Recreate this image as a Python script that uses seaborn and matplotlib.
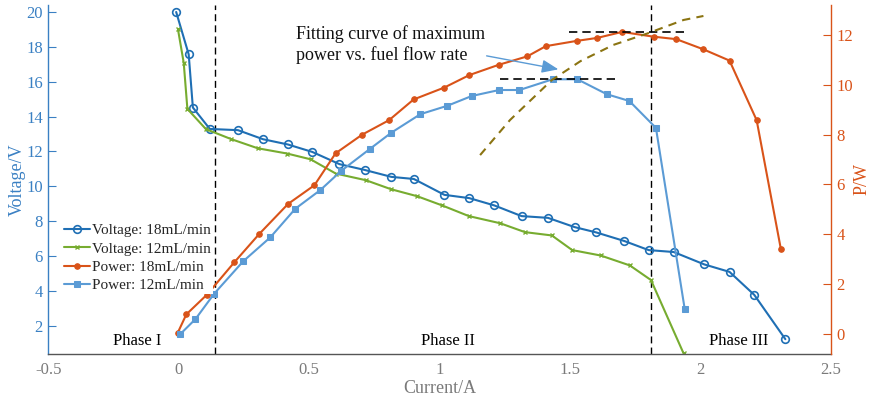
import matplotlib
matplotlib.use("Agg")
import matplotlib.pyplot as plt
import seaborn as sns
import numpy as np

# ---------------- data ----------------
i_v18 = [-0.01, 0.038, 0.054, 0.119, 0.227, 0.323, 0.418, 0.512, 0.616, 0.712, 0.815, 0.901,
         1.018, 1.114, 1.210, 1.314, 1.415, 1.517, 1.601, 1.708, 1.801, 1.897, 2.014, 2.111,
         2.206, 2.325]
v18 = [20.0, 17.57, 14.52, 13.29, 13.22, 12.70, 12.40, 11.97, 11.27, 10.94, 10.54, 10.42,
       9.51, 9.32, 8.90, 8.29, 8.19, 7.66, 7.35, 6.86, 6.34, 6.23, 5.52, 5.09, 3.77, 1.23]

i_v12 = [-0.003, 0.019, 0.033, 0.104, 0.202, 0.303, 0.415, 0.505, 0.602, 0.717, 0.814, 0.914,
         1.010, 1.112, 1.232, 1.327, 1.430, 1.508, 1.617, 1.729, 1.810, 1.935]
v12 = [19.0, 17.08, 14.44, 13.28, 12.70, 12.18, 11.88, 11.55, 10.73, 10.35, 9.83, 9.43,
       8.90, 8.29, 7.88, 7.37, 7.18, 6.34, 6.03, 5.46, 4.62, 0.41]

i_p18 = [-0.004, 0.029, 0.108, 0.213, 0.308, 0.419, 0.520, 0.601, 0.703, 0.806, 0.900, 1.018,
         1.114, 1.226, 1.336, 1.407, 1.525, 1.604, 1.699, 1.820, 1.907, 2.009, 2.111, 2.215,
         2.308]
p18 = [0.05, 0.79, 1.58, 2.88, 4.01, 5.22, 5.97, 7.25, 8.00, 8.58, 9.41, 9.89, 10.39, 10.80,
       11.14, 11.55, 11.76, 11.88, 12.12, 11.93, 11.83, 11.43, 10.97, 8.58, 3.40]

i_p12 = [0.006, 0.064, 0.135, 0.247, 0.351, 0.447, 0.543, 0.623, 0.733, 0.815, 0.926, 1.030,
         1.123, 1.228, 1.306, 1.433, 1.528, 1.641, 1.727, 1.829, 1.939]
p12 = [0.0, 0.60, 1.61, 2.92, 3.88, 5.03, 5.78, 6.55, 7.43, 8.08, 8.82, 9.16, 9.55, 9.79,
       9.79, 10.22, 10.22, 9.62, 9.35, 8.27, 1.02]

# fitting curve of maximum power vs. fuel flow rate
i_fit = [1.155, 1.270, 1.430, 1.540, 1.666, 1.794, 1.935, 2.011]
p_fit = [7.18, 8.59, 10.19, 10.95, 11.60, 12.05, 12.60, 12.76]

phase_bounds = [0.14, 1.81]
max_p18 = 12.12
max_p12 = 10.22

labels = ["Voltage: 18mL/min", "Voltage: 12mL/min", "Power: 18mL/min", "Power: 12mL/min"]
phase_names = ["Phase I", "Phase II", "Phase III"]
phase_x = [-0.16, 1.03, 2.145]
xticks = [-0.5, 0, 0.5, 1, 1.5, 2, 2.5]
xtick_labels = ["-0.5", "0", "0.5", "1", "1.5", "2", "2.5"]

# ---------------- style ----------------
sns.set_style("white")
plt.rcParams['font.family'] = ['Liberation Serif', 'DejaVu Serif']
plt.rcParams['axes.unicode_minus'] = False

c_v18 = '#1f6fb4'
c_v12 = '#77ac30'
c_p18 = '#d95319'
c_p12 = '#5b9bd5'
c_left = '#3a80c3'
c_right = '#d95319'
c_gray = '#7a7a7a'
c_fit = '#8b7412'

fig = plt.figure(figsize=(8.74, 4.04), dpi=100)
ax = fig.add_axes([0.0553, 0.1238, 0.8955, 0.8638])
ax2 = ax.twinx()

# voltage lines (left axis)
sns.lineplot(x=i_v18, y=v18, ax=ax, sort=False, color=c_v18, lw=1.5, marker='o',
             markersize=5.5, markerfacecolor='none', markeredgecolor=c_v18,
             markeredgewidth=1.2, label=labels[0], legend=False)
sns.lineplot(x=i_v12, y=v12, ax=ax, sort=False, color=c_v12, lw=1.5, marker='x',
             markersize=3.5, markeredgecolor=c_v12, markeredgewidth=1.0,
             label=labels[1], legend=False)

# phase boundaries
for xb in phase_bounds:
    ax.axvline(xb, color='black', ls=(0, (5, 3)), lw=1.0, zorder=1)

# power lines (right axis)
sns.lineplot(x=i_p18, y=p18, ax=ax2, sort=False, color=c_p18, lw=1.5, marker='o',
             markersize=4, markeredgecolor=c_p18, markerfacecolor=c_p18,
             label=labels[2], legend=False)
sns.lineplot(x=i_p12, y=p12, ax=ax2, sort=False, color=c_p12, lw=1.5, marker='s',
             markersize=4, markeredgecolor=c_p12, markerfacecolor=c_p12,
             label=labels[3], legend=False)

# max power dashed lines
ax2.plot([1.494, 1.939], [max_p18, max_p18], color='black', ls=(0, (5, 3)), lw=1.2)
ax2.plot([1.232, 1.673], [max_p12, max_p12], color='black', ls=(0, (5, 3)), lw=1.2)

# fitting curve
ax2.plot(i_fit, p_fit, color=c_fit, ls=(0, (4, 3)), lw=1.5)

# annotation
ax2.text(0.45, 11.62, "Fitting curve of maximum\npower vs. fuel flow rate", fontsize=13,
         va='center', ha='left', color='#111111', linespacing=1.25)
ax2.annotate("", xy=(1.455, 10.62), xytext=(1.18, 11.16),
             arrowprops=dict(arrowstyle='-|>,head_length=1.0,head_width=0.4',
                             color=c_p12, lw=1.0, shrinkA=0, shrinkB=0))

# limits
ax.set_xlim(-0.5, 2.5)
ax.set_ylim(0.38, 20.4)
ax2.set_ylim(-0.8, 13.2)

ax.set_xticks(xticks)
ax.set_xticklabels(xtick_labels)
ax.set_yticks(list(range(2, 21, 2)))
ax2.set_yticks(list(range(0, 13, 2)))

# phase labels
for name, xp in zip(phase_names, phase_x):
    ax.text(xp, 1.15, name, ha='center', va='center', fontsize=12, color='black')

# axis styling
ax.set_xlabel("Current/A", fontsize=13, color=c_gray, labelpad=1)
ax.set_ylabel("Voltage/V", fontsize=13, color=c_left, labelpad=0)
ax2.set_ylabel("P/W", fontsize=13, color=c_right, labelpad=0)

for a in (ax, ax2):
    a.spines['top'].set_visible(False)
    for s in a.spines.values():
        s.set_linewidth(1.0)
ax.spines['bottom'].set_color('#555555')
ax.spines['left'].set_color(c_left)
ax.spines['right'].set_visible(False)
ax2.spines['left'].set_visible(False)
ax2.spines['bottom'].set_visible(False)
ax2.spines['right'].set_color(c_right)

ax.tick_params(axis='x', direction='in', length=6, width=0.8, colors='#333333',
               labelcolor=c_gray, labelsize=12, pad=6)
ax.tick_params(axis='y', direction='in', length=6, width=0.8, colors=c_left,
               labelcolor=c_left, labelsize=12, pad=4)
ax2.tick_params(axis='y', direction='in', length=6, width=0.8, colors=c_right,
                labelcolor=c_right, labelsize=12, pad=4)

# legend
handles = ax.get_lines()[:2] + ax2.get_lines()[:2]
leg = ax2.legend(handles, labels, loc='upper left', bbox_to_anchor=(0.0175, 0.380),
                 fontsize=11, frameon=True, framealpha=1.0, facecolor='white',
                 edgecolor='none', fancybox=False, borderpad=0.15, labelspacing=0.3,
                 handlelength=1.65, handletextpad=0.15, borderaxespad=0.0)

fig.savefig("out.png", dpi=100)
